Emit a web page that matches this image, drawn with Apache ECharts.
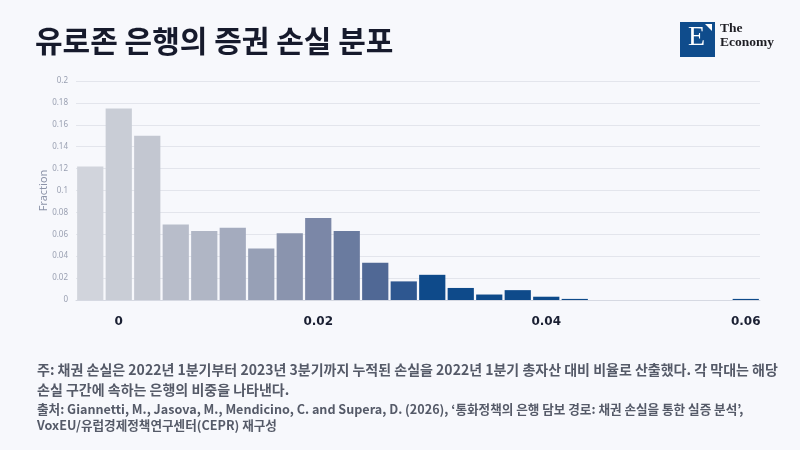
<!DOCTYPE html>
<html>
<head>
    <meta http-equiv="Content-Type" content="text/html; charset=utf-8" />
    <script type="text/javascript" src="https://cdn.jsdelivr.net/npm/echarts@6/dist/echarts.min.js"></script>
    <style>
        html, body { margin: 0; padding: 0; background: #f7f8fc; }
        #chartDom { position: absolute; width: 800px; height: 450px; }
    </style>
</head>
<body>
    <div id="chartDom"></div>

    <script type="text/javascript">
        // histogram bins (bond loss / total assets), 24 bins
        var bins = ['-0.001', '0.000', '0.003', '0.006', '0.009', '0.011', '0.014', '0.017', '0.020', '0.023',
                    '0.026', '0.029', '0.031', '0.034', '0.037', '0.040', '0.043', '0.046', '0.049', '0.051',
                    '0.054', '0.057', '0.060', '0.062'];
        var fraction = [0.122, 0.175, 0.150, 0.069, 0.063, 0.066, 0.047, 0.061, 0.075, 0.063,
                        0.034, 0.017, 0.023, 0.011, 0.005, 0.009, 0.003, 0.001, 0, 0,
                        0, 0, 0, 0.001];
        // tick labels shown under selected bins
        var tickLabels = { 1: '0', 8: '0.02', 16: '0.04', 23: '0.06' };
        var yTicks = [0, 0.02, 0.04, 0.06, 0.08, 0.1, 0.12, 0.14, 0.16, 0.18, 0.2];

        var palette = ['#d1d4dc', '#c9cdd6', '#c3c7d1', '#b8bdca', '#b0b6c5', '#a4abbe', '#97a0b6',
                       '#8a94ae', '#7b87a7', '#6a7b9f', '#506895', '#2e5790'];
        var navy = '#0e4a8a';

        var myChart = echarts.init(document.getElementById("chartDom"));

        var option = {
            backgroundColor: '#f7f8fc',
            animation: false,
            title: {
                text: '유로존 은행의 증권 손실 분포',
                left: 30,
                top: 21,
                textStyle: {
                    fontFamily: 'Noto Sans CJK KR',
                    fontSize: 30,
                    fontWeight: 'bold',
                    color: '#161a2c'
                }
            },
            grid: { left: 76, right: 40, top: 81, bottom: 150 },
            xAxis: {
                type: 'category',
                data: bins,
                axisLine: { show: true, lineStyle: { color: '#d6d9e2' } },
                axisTick: { show: false },
                axisLabel: {
                    interval: 0,
                    margin: 16,
                    formatter: function (v, i) { return tickLabels[i] || ''; },
                    fontFamily: 'DejaVu Sans',
                    fontWeight: 'bold',
                    fontSize: 12,
                    color: '#1b2033'
                }
            },
            yAxis: {
                type: 'value',
                min: 0,
                max: yTicks[yTicks.length - 1],
                interval: 0.02,
                name: 'Fraction',
                nameLocation: 'middle',
                nameGap: 27,
                nameMoveOverlap: false,
                nameTextStyle: { fontFamily: 'Noto Sans', fontSize: 11, color: '#8c93a8' },
                axisLabel: {
                    fontFamily: 'Noto Sans',
                    fontSize: 8,
                    color: '#9aa0b2',
                    margin: 8,
                    formatter: function (v) { return String(+v.toFixed(2)); }
                },
                splitLine: { lineStyle: { color: '#e3e5ec' } }
            },
            series: [{
                type: 'bar',
                data: fraction.map(function (v, i) {
                    return { value: v, itemStyle: { color: palette[i] || navy } };
                }),
                barCategoryGap: '8%'
            }],
            graphic: [
                {
                    type: 'rect',
                    shape: { x: 680, y: 22, width: 35, height: 35 },
                    style: { fill: '#0f4c8c' }
                },
                {
                    type: 'polygon',
                    shape: { points: [[705, 24], [712, 24], [712, 31]] },
                    style: { fill: '#ffffff' }
                },
                {
                    type: 'text',
                    left: 688, top: 24,
                    style: { text: 'E', font: '28px "Liberation Serif"', fill: '#ffffff' }
                },
                {
                    type: 'text',
                    left: 720, top: 22,
                    style: { text: 'The\nEconomy', font: '600 13.5px "Liberation Serif"', lineHeight: 14, fill: '#1e1e24' }
                },
                {
                    type: 'text',
                    left: 37, top: 360,
                    style: {
                        text: '주: 채권 손실은 2022년 1분기부터 2023년 3분기까지 누적된 손실을 2022년 1분기 총자산 대비 비율로 산출했다. 각 막대는 해당\n손실 구간에 속하는 은행의 비중을 나타낸다.',
                        font: '600 14px "Noto Sans CJK KR"',
                        lineHeight: 20,
                        fill: '#555a68'
                    }
                },
                {
                    type: 'text',
                    left: 37, top: 401,
                    style: {
                        text: '출처: Giannetti, M., Jasova, M., Mendicino, C. and Supera, D. (2026), ‘통화정책의 은행 담보 경로: 채권 손실을 통한 실증 분석’,\nVoxEU/유럽경제정책연구센터(CEPR) 재구성',
                        font: '600 12.6px "Noto Sans CJK KR"',
                        lineHeight: 16,
                        fill: '#555a68'
                    }
                }
            ]
        };

        myChart.setOption(option);
        window.onresize = myChart.resize;
    </script>
</body>
</html>
